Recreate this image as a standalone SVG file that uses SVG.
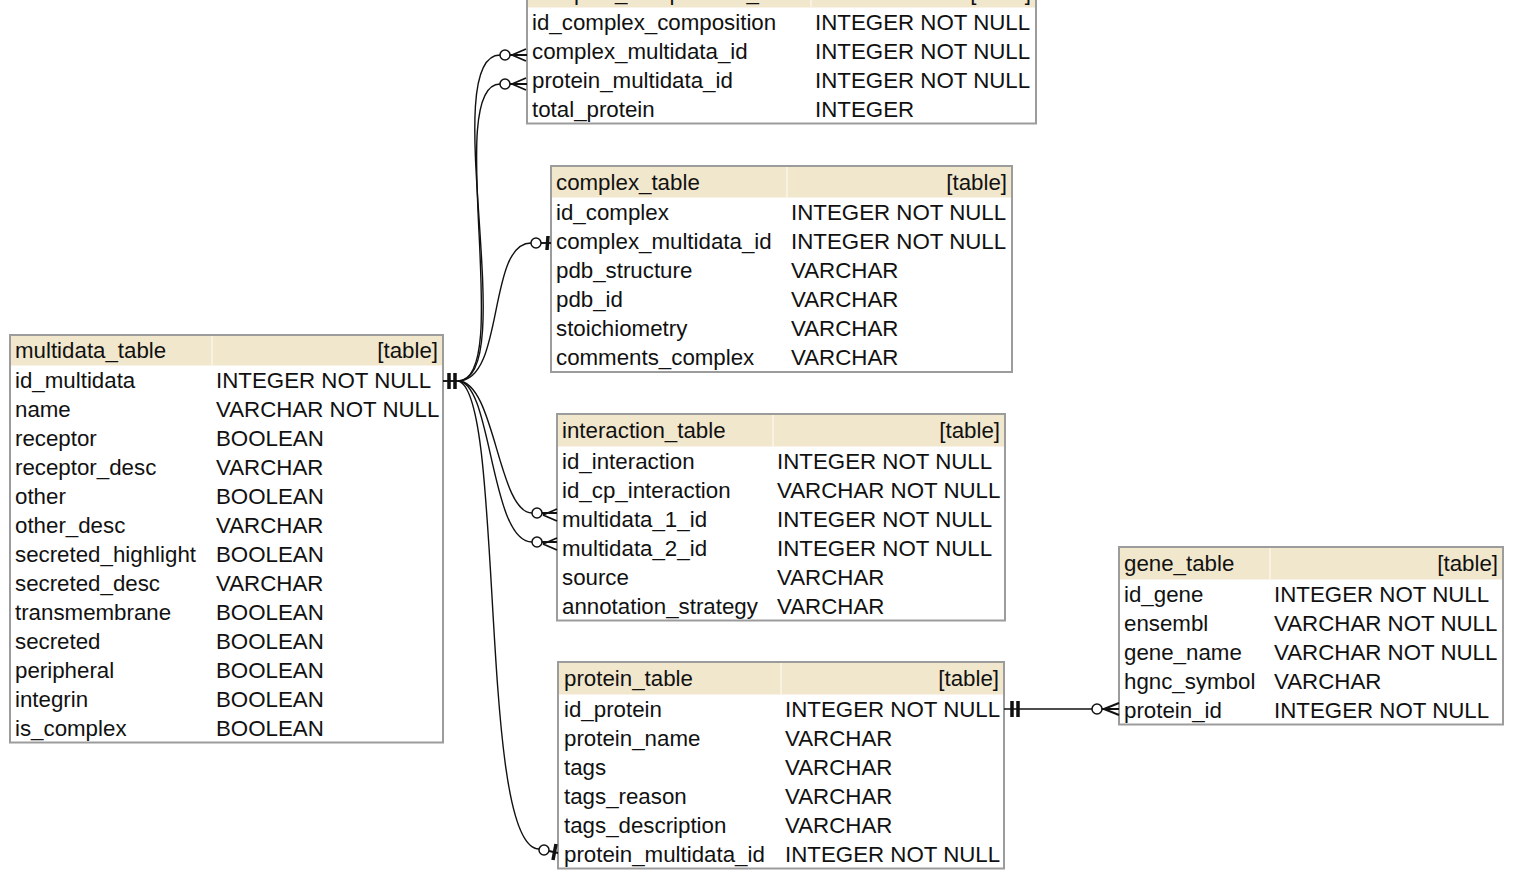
<svg xmlns="http://www.w3.org/2000/svg" width="1514" height="870" viewBox="0 0 1514 870">
<style>
text{font-family:"Liberation Sans",Arial,Helvetica,sans-serif;font-size:22.3px;fill:#111}
.box{fill:#fff;stroke:#9c9c9c;stroke-width:2}
.hdr{fill:#f1e7cd}
.sep{stroke:#fbf6ea;stroke-width:1.5}
.end{text-anchor:end}
.c{fill:none;stroke:#111;stroke-width:1.4}
.circ{fill:#fff;stroke:#111;stroke-width:1.5}
.bar{stroke:#111;stroke-width:3.5;fill:none}
.crow{stroke:#111;stroke-width:1.9;fill:none}
</style>

<g id="complex_composition_table">
<rect class="box" x="527" y="-24" width="509" height="147.5"/>
<rect class="hdr" x="528" y="-23" width="507" height="30.5"/>
<line class="sep" x1="811" y1="-23" x2="811" y2="7.5"/>
<text x="532" y="-0.5">complex_composition_table</text>
<text class="end" x="1031" y="-0.5">[table]</text>
<text x="532" y="29.5">id_complex_composition</text><text x="815" y="29.5">INTEGER NOT NULL</text>
<text x="532" y="58.5">complex_multidata_id</text><text x="815" y="58.5">INTEGER NOT NULL</text>
<text x="532" y="87.5">protein_multidata_id</text><text x="815" y="87.5">INTEGER NOT NULL</text>
<text x="532" y="116.5">total_protein</text><text x="815" y="116.5">INTEGER</text>
</g>

<g id="complex_table">
<rect class="box" x="551" y="166" width="461" height="206"/>
<rect class="hdr" x="552" y="167" width="459" height="30.5"/>
<line class="sep" x1="787" y1="167" x2="787" y2="197.5"/>
<text x="556" y="189.5">complex_table</text>
<text class="end" x="1007" y="189.5">[table]</text>
<text x="556" y="219.5">id_complex</text><text x="791" y="219.5">INTEGER NOT NULL</text>
<text x="556" y="248.5">complex_multidata_id</text><text x="791" y="248.5">INTEGER NOT NULL</text>
<text x="556" y="277.5">pdb_structure</text><text x="791" y="277.5">VARCHAR</text>
<text x="556" y="306.5">pdb_id</text><text x="791" y="306.5">VARCHAR</text>
<text x="556" y="335.5">stoichiometry</text><text x="791" y="335.5">VARCHAR</text>
<text x="556" y="364.5">comments_complex</text><text x="791" y="364.5">VARCHAR</text>
</g>

<g id="multidata_table">
<rect class="box" x="10" y="335" width="433" height="407.5"/>
<rect class="hdr" x="11" y="336" width="431" height="29.5"/>
<line class="sep" x1="212" y1="336" x2="212" y2="365.5"/>
<text x="15" y="357.5">multidata_table</text>
<text class="end" x="438" y="357.5">[table]</text>
<text x="15" y="387.5">id_multidata</text><text x="216" y="387.5">INTEGER NOT NULL</text>
<text x="15" y="416.5">name</text><text x="216" y="416.5">VARCHAR NOT NULL</text>
<text x="15" y="445.5">receptor</text><text x="216" y="445.5">BOOLEAN</text>
<text x="15" y="474.5">receptor_desc</text><text x="216" y="474.5">VARCHAR</text>
<text x="15" y="503.5">other</text><text x="216" y="503.5">BOOLEAN</text>
<text x="15" y="532.5">other_desc</text><text x="216" y="532.5">VARCHAR</text>
<text x="15" y="561.5">secreted_highlight</text><text x="216" y="561.5">BOOLEAN</text>
<text x="15" y="590.5">secreted_desc</text><text x="216" y="590.5">VARCHAR</text>
<text x="15" y="619.5">transmembrane</text><text x="216" y="619.5">BOOLEAN</text>
<text x="15" y="648.5">secreted</text><text x="216" y="648.5">BOOLEAN</text>
<text x="15" y="677.5">peripheral</text><text x="216" y="677.5">BOOLEAN</text>
<text x="15" y="706.5">integrin</text><text x="216" y="706.5">BOOLEAN</text>
<text x="15" y="735.5">is_complex</text><text x="216" y="735.5">BOOLEAN</text>
</g>

<g id="interaction_table">
<rect class="box" x="557" y="414" width="448" height="206.5"/>
<rect class="hdr" x="558" y="415" width="446" height="31.5"/>
<line class="sep" x1="773" y1="415" x2="773" y2="446.5"/>
<text x="562" y="437.5">interaction_table</text>
<text class="end" x="1000" y="437.5">[table]</text>
<text x="562" y="468.5">id_interaction</text><text x="777" y="468.5">INTEGER NOT NULL</text>
<text x="562" y="497.5">id_cp_interaction</text><text x="777" y="497.5">VARCHAR NOT NULL</text>
<text x="562" y="526.5">multidata_1_id</text><text x="777" y="526.5">INTEGER NOT NULL</text>
<text x="562" y="555.5">multidata_2_id</text><text x="777" y="555.5">INTEGER NOT NULL</text>
<text x="562" y="584.5">source</text><text x="777" y="584.5">VARCHAR</text>
<text x="562" y="613.5">annotation_strategy</text><text x="777" y="613.5">VARCHAR</text>
</g>

<g id="protein_table">
<rect class="box" x="558" y="662" width="446" height="206.5"/>
<rect class="hdr" x="559" y="663" width="444" height="31.5"/>
<line class="sep" x1="781" y1="663" x2="781" y2="694.5"/>
<text x="564" y="685.5">protein_table</text>
<text class="end" x="999" y="685.5">[table]</text>
<text x="564" y="716.5">id_protein</text><text x="785" y="716.5">INTEGER NOT NULL</text>
<text x="564" y="745.5">protein_name</text><text x="785" y="745.5">VARCHAR</text>
<text x="564" y="774.5">tags</text><text x="785" y="774.5">VARCHAR</text>
<text x="564" y="803.5">tags_reason</text><text x="785" y="803.5">VARCHAR</text>
<text x="564" y="832.5">tags_description</text><text x="785" y="832.5">VARCHAR</text>
<text x="564" y="861.5">protein_multidata_id</text><text x="785" y="861.5">INTEGER NOT NULL</text>
</g>

<g id="gene_table">
<rect class="box" x="1119" y="547" width="384" height="177.5"/>
<rect class="hdr" x="1120" y="548" width="382" height="31.5"/>
<line class="sep" x1="1270" y1="548" x2="1270" y2="579.5"/>
<text x="1124" y="570.5">gene_table</text>
<text class="end" x="1498" y="570.5">[table]</text>
<text x="1124" y="601.5">id_gene</text><text x="1274" y="601.5">INTEGER NOT NULL</text>
<text x="1124" y="630.5">ensembl</text><text x="1274" y="630.5">VARCHAR NOT NULL</text>
<text x="1124" y="659.5">gene_name</text><text x="1274" y="659.5">VARCHAR NOT NULL</text>
<text x="1124" y="688.5">hgnc_symbol</text><text x="1274" y="688.5">VARCHAR</text>
<text x="1124" y="717.5">protein_id</text><text x="1274" y="717.5">INTEGER NOT NULL</text>
</g>

<g id="connectors">
<path class="c" d="M458,381 C522,381 436,55 500,55"/>
<circle class="circ" cx="505" cy="55" r="5"/>
<path class="crow" d="M510,55 L527,55 M512,55 L526,49 M512,55 L526,61"/>
<path class="c" d="M458,381 C515,381 443,84 500,84"/>
<circle class="circ" cx="505" cy="84" r="5"/>
<path class="crow" d="M510,84 L527,84 M512,84 L526,78 M512,84 L526,90"/>
<path class="c" d="M458,381 C505,381 487,243 531,243"/>
<circle class="circ" cx="536" cy="243" r="5"/>
<path class="bar" d="M548,236 L547,250"/>
<path class="crow" d="M541,243 L551,243"/>
<path class="c" d="M458,381 C495,381 498,513 532,513"/>
<circle class="circ" cx="537" cy="513" r="5"/>
<path class="crow" d="M542,513 L557,513 M543,515 L557,509 M543,515 L557,521"/>
<path class="c" d="M458,381 C492,381 490,542 532,542"/>
<circle class="circ" cx="537" cy="542" r="5"/>
<path class="crow" d="M542,542 L557,542 M543,544 L557,538 M543,544 L557,550"/>
<path class="c" d="M458,381 C505,390 478,849 539,849"/>
<circle class="circ" cx="544" cy="850" r="5"/>
<path class="bar" d="M556,844 L553,860"/>
<path class="crow" d="M549,851 L558,853"/>
<path class="bar" d="M449,373 L449,389 M455,373 L455,389"/>
<path class="crow" d="M443,381 L460,381"/>
<path class="c" d="M1004,709 L1092,709"/>
<path class="bar" d="M1012,701 L1012,717 M1018,701 L1018,717"/>
<circle class="circ" cx="1097" cy="709" r="5"/>
<path class="crow" d="M1102,709 L1119,709 M1104,709 L1119,703 M1104,709 L1119,715"/>
</g>
</svg>
